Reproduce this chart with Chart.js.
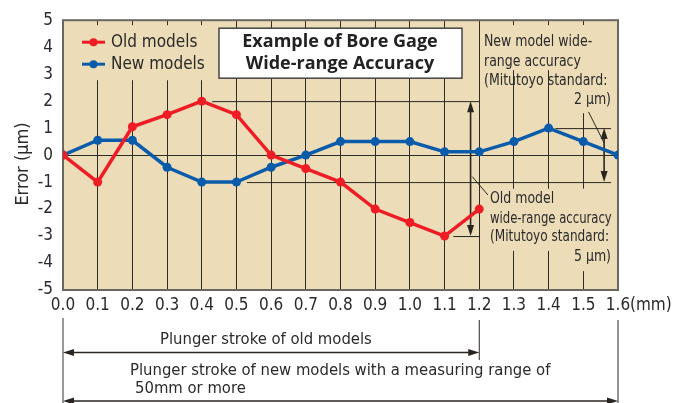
<!DOCTYPE html>
<html>
<head>
<meta charset="utf-8">
<script src="https://cdn.jsdelivr.net/npm/chart.js@4/dist/chart.umd.min.js"></script>
<style>
  html, body { margin: 0; padding: 0; background: #fff; }
  #wrap { width: 678px; height: 403px; }
</style>
</head>
<body>
<div id="wrap"><canvas id="accChart" width="678" height="403"></canvas></div>
<script>
// stroke positions (mm)
const strokeOld = [0.0, 0.1, 0.2, 0.3, 0.4, 0.5, 0.6, 0.7, 0.8, 0.9, 1.0, 1.1, 1.2];
const strokeNew = [0.0, 0.1, 0.2, 0.3, 0.4, 0.5, 0.6, 0.7, 0.8, 0.9, 1.0, 1.1, 1.2, 1.3, 1.4, 1.5, 1.6];
// error values (um)
const errorOld = [0, -1, 1.05, 1.5, 2, 1.5, 0, -0.5, -1, -2, -2.5, -3, -2];
const errorNew = [0, 0.55, 0.55, -0.45, -1, -1, -0.45, 0, 0.5, 0.5, 0.5, 0.12, 0.12, 0.5, 1, 0.5, 0];
const seriesNames = ['Old models', 'New models'];
const titleLines = ['Example of Bore Gage', 'Wide-range Accuracy'];
const newNote = ['New model wide-', 'range accuracy', '(Mitutoyo standard:', '2 μm)'];
const oldNote = ['Old model', 'wide-range accuracy', '(Mitutoyo standard:', '5 μm)'];

const RED = '#ee1d25';
const BLUE = '#0b5bab';
const TAN = '#ecdcb8';
const INK = '#2a2520';
const NARROW = '"Liberation Sans Narrow", "DejaVu Sans Condensed", sans-serif';

const pts = (xs, ys) => xs.map((x, i) => ({ x: x, y: ys[i] }));

function arrowHead(ctx, x, y, dx, dy) {
  // dx,dy = unit direction the arrow points to
  const len = 11, half = 3.5;
  ctx.beginPath();
  ctx.moveTo(x, y);
  ctx.lineTo(x - dx * len - dy * half, y - dy * len + dx * half);
  ctx.lineTo(x - dx * len + dy * half, y - dy * len - dx * half);
  ctx.closePath();
  ctx.fill();
}

function line(ctx, x1, y1, x2, y2) {
  ctx.beginPath();
  ctx.moveTo(x1, y1);
  ctx.lineTo(x2, y2);
  ctx.stroke();
}

// condensed text: squeeze horizontally
function squeezed(ctx, text, x, y, align, k) {
  ctx.save();
  ctx.translate(x, y);
  ctx.scale(k, 1);
  ctx.textAlign = align;
  ctx.fillText(text, 0, 0);
  ctx.restore();
}

const decorations = {
  id: 'decorations',
  beforeDraw(chart) {
    const { ctx, chartArea: a } = chart;
    ctx.save();
    ctx.fillStyle = TAN;
    ctx.fillRect(a.left, a.top, a.right - a.left, a.bottom - a.top);
    ctx.restore();
  },
  beforeDatasetsDraw(chart) {
    const { ctx, chartArea: a, scales } = chart;
    const X = v => scales.x.getPixelForValue(v);
    const Y = v => scales.y.getPixelForValue(v);
    ctx.save();

    // clear grid behind legend and notes
    ctx.fillStyle = TAN;
    ctx.fillRect(a.left + 3, a.top + 5, 150, 55);
    ctx.fillRect(X(1.22), a.top + 5, a.right - X(1.22) - 1, Y(3.15) - a.top - 5);
    ctx.fillRect(X(1.45), a.top + 5, a.right - X(1.45) - 1, Y(1.55) - a.top - 5);
    ctx.fillRect(X(1.22), Y(-1.25), a.right - X(1.22) - 1, Y(-3.55) - Y(-1.25));
    ctx.fillRect(X(1.45), Y(-1.25), a.right - X(1.45) - 1, Y(-4.3) - Y(-1.25));

    // title box
    ctx.fillStyle = '#fff';
    ctx.fillRect(219, a.top + 8, 243, 50);
    ctx.strokeStyle = '#444';
    ctx.lineWidth = 1.5;
    ctx.strokeRect(219, a.top + 8, 243, 50);
    ctx.fillStyle = '#222';
    ctx.font = 'bold 18px "Open Sans", "Liberation Sans", sans-serif';
    ctx.textAlign = 'center';
    ctx.textBaseline = 'middle';
    ctx.fillText(titleLines[0], 340, a.top + 22);
    ctx.fillText(titleLines[1], 340, a.top + 44);

    // reference lines
    ctx.strokeStyle = INK;
    ctx.fillStyle = INK;
    ctx.lineWidth = 1;
    line(ctx, X(0.43), Y(2) + 0.5, X(1.2), Y(2) + 0.5);
    line(ctx, X(1.125), Y(-3) + 0.5, X(1.2), Y(-3) + 0.5);
    line(ctx, X(0.53), Y(-1) + 0.5, X(1.58), Y(-1) + 0.5);
    line(ctx, X(1.42), Y(1) + 0.5, X(1.58), Y(1) + 0.5);

    // double arrows
    ctx.lineWidth = 1.6;
    const xo = X(1.175);
    line(ctx, xo, Y(2) + 8, xo, Y(-3) - 8);
    arrowHead(ctx, xo, Y(2), 0, -1);
    arrowHead(ctx, xo, Y(-3), 0, 1);
    const xn = X(1.56);
    line(ctx, xn, Y(1) + 8, xn, Y(-1) - 8);
    arrowHead(ctx, xn, Y(1), 0, -1);
    arrowHead(ctx, xn, Y(-1), 0, 1);

    // leader lines
    ctx.lineWidth = 1;
    line(ctx, X(1.18), Y(-0.8), X(1.225), Y(-1.48));
    line(ctx, X(1.515), Y(1.6), X(1.56), Y(0.45));

    // borders
    ctx.strokeStyle = '#6b6660';
    ctx.lineWidth = 2;
    ctx.strokeRect(a.left, a.top, a.right - a.left, a.bottom - a.top);

    // notes
    ctx.fillStyle = '#2a2a2a';
    ctx.font = '16px ' + NARROW;
    ctx.textBaseline = 'middle';
    const k = 0.87;
    squeezed(ctx, newNote[0], 484, 42, 'left', k);
    squeezed(ctx, newNote[1], 484, 62, 'left', k);
    squeezed(ctx, newNote[2], 484, 81, 'left', k);
    squeezed(ctx, newNote[3], 611, 100, 'right', k);
    squeezed(ctx, oldNote[0], 490, 199, 'left', k);
    squeezed(ctx, oldNote[1], 490, 219, 'left', 0.81);
    squeezed(ctx, oldNote[2], 490, 237, 'left', 0.84);
    squeezed(ctx, oldNote[3], 611, 257, 'right', k);

    // legend
    ctx.textAlign = 'left';
    ctx.font = '17px ' + NARROW;
    [RED, BLUE].forEach((c, i) => {
      const y = a.top + 22 + i * 22;
      ctx.strokeStyle = c;
      ctx.fillStyle = c;
      ctx.lineWidth = 3;
      line(ctx, 82, y, 105, y);
      ctx.beginPath();
      ctx.arc(93.5, y, 4, 0, Math.PI * 2);
      ctx.fill();
      ctx.fillStyle = '#2a2a2a';
      ctx.fillText(seriesNames[i], 111, y);
    });
    ctx.restore();
  },
  afterDraw(chart) {
    const { ctx, scales } = chart;
    const X = v => scales.x.getPixelForValue(v);
    ctx.save();
    ctx.fillStyle = '#2a2a2a';
    ctx.font = '17px ' + NARROW;
    ctx.textBaseline = 'middle';
    ctx.textAlign = 'left';
    ctx.fillText('(mm)', X(1.6) + 12, 306);

    // y axis title
    ctx.save();
    ctx.translate(23, 164);
    ctx.rotate(-Math.PI / 2);
    ctx.textAlign = 'center';
    ctx.font = '18px ' + NARROW;
    ctx.fillText('Error (μm)', 0, 0);
    ctx.restore();

    // stroke ranges below the axis
    ctx.strokeStyle = '#777';
    ctx.lineWidth = 1.5;
    line(ctx, X(0), 318, X(0), 403);
    ctx.strokeStyle = INK;
    ctx.lineWidth = 1;
    line(ctx, X(1.2), 320, X(1.2), 360);
    line(ctx, X(1.6), 320, X(1.6), 403);
    ctx.lineWidth = 1.5;
    ctx.fillStyle = INK;
    line(ctx, X(0) + 8, 352.5, X(1.2) - 8, 352.5);
    arrowHead(ctx, X(0), 352.5, -1, 0);
    arrowHead(ctx, X(1.2), 352.5, 1, 0);
    line(ctx, X(0) + 8, 401, X(1.6) - 8, 401);
    arrowHead(ctx, X(0), 401, -1, 0);
    arrowHead(ctx, X(1.6), 401, 1, 0);

    ctx.fillStyle = '#2a2a2a';
    ctx.textAlign = 'left';
    ctx.font = '16.5px ' + NARROW;
    ctx.fillText('Plunger stroke of old models', 160, 340);
    ctx.fillText('Plunger stroke of new models with a measuring range of', 130, 371);
    ctx.fillText('50mm or more', 135, 389);
    ctx.restore();
  }
};

new Chart(document.getElementById('accChart'), {
  type: 'line',
  data: {
    datasets: [
      {
        label: seriesNames[0],
        data: pts(strokeOld, errorOld),
        borderColor: RED,
        backgroundColor: RED,
        borderWidth: 3.5,
        pointRadius: 4.5,
        pointBorderWidth: 0,
        tension: 0
      },
      {
        label: seriesNames[1],
        data: pts(strokeNew, errorNew),
        borderColor: BLUE,
        backgroundColor: BLUE,
        borderWidth: 3.5,
        pointRadius: 4.5,
        pointBorderWidth: 0,
        tension: 0
      }
    ]
  },
  options: {
    responsive: false,
    animation: false,
    layout: { padding: { left: 0, top: 20, right: 60, bottom: 0 } },
    plugins: { legend: { display: false }, tooltip: { enabled: false } },
    scales: {
      x: {
        type: 'linear',
        min: 0,
        max: 1.6,
        afterFit: s => { s.height = 113; },
        afterBuildTicks: s => { s.ticks = strokeNew.map(v => ({ value: v })); },
        ticks: {
          callback: v => v.toFixed(1),
          color: '#2a2a2a',
          font: { family: NARROW, size: 17 },
          padding: 5,
          maxRotation: 0,
          autoSkip: false
        },
        grid: { color: '#2e2a26', lineWidth: 1, drawTicks: false },
        border: { display: false }
      },
      y: {
        min: -5,
        max: 5,
        afterFit: s => { s.width = 63; },
        ticks: {
          stepSize: 1,
          color: '#2a2a2a',
          font: { family: NARROW, size: 17 },
          padding: 10
        },
        grid: {
          color: c => (c.tick && c.tick.value === 0 ? '#2e2a26' : 'rgba(0,0,0,0)'),
          lineWidth: 1,
          drawTicks: false
        },
        border: { display: false }
      }
    }
  },
  plugins: [decorations]
});
</script>
</body>
</html>
